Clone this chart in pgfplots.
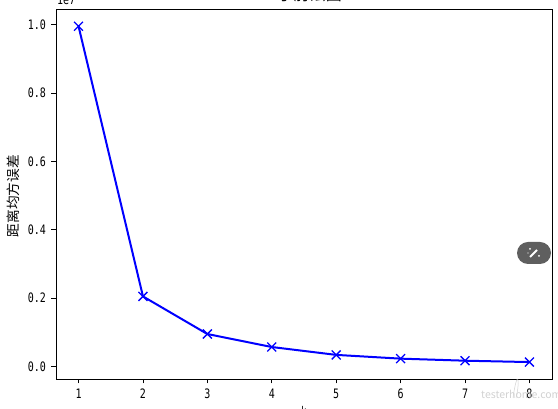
\documentclass[border=0pt]{standalone}
\usepackage{pgfplots}
\pgfplotsset{compat=1.18}
\usepackage{fontspec}
\setmainfont{Noto Sans CJK SC}
\newfontfamily\tickf[FakeStretch=0.77]{DejaVu Sans Mono}
\definecolor{pill}{HTML}{5F5F5F}
\begin{document}
\begin{tikzpicture}[x=1pt,y=1pt]
\path[use as bounding box] (0,0) rectangle (558,409);
\clip (0,0) rectangle (558,409);
\begin{axis}[
  at={(56pt,30pt)}, anchor=south west,
  scale only axis, width=496pt, height=369.5pt,
  xmin=0.65, xmax=8.35, ymin=-0.0365, ymax=1.044,
  xtick={1,2,3,4,5,6,7,8},
  ytick={0,0.2,0.4,0.6,0.8,1.0},
  yticklabels={0.0,0.2,0.4,0.6,0.8,1.0},
  tick style={black, line width=0.8pt},
  tick align=outside, major tick length=4.5pt,
  xtick pos=bottom, ytick pos=left,
  axis line style={line width=0.9pt},
  ticklabel style={font=\tickf\fontsize{13}{15}\selectfont},
  xticklabel style={yshift=-1.5pt},
  yticklabel style={xshift=-2pt},
  /pgf/number format/assume math mode=true,
  xlabel={k}, ylabel={距离均方误差},
  xlabel style={at={(axis description cs:0.5,-0.0975)}, anchor=base, font=\tickf\fontsize{12}{14}\selectfont},
  ylabel style={at={(axis description cs:-0.086,0.495)}, anchor=center, font=\fontsize{13.7}{15}\selectfont},
  title={手肘法图},
  title style={at={(axis description cs:0.512,1.007)}, anchor=base, font=\fontsize{16}{18}\selectfont},
  clip=false,
]
\addplot[blue, line width=2pt, mark=x, mark size=6.3pt, mark options={line width=1.3pt}] coordinates {
 (1,0.995) (2,0.205) (3,0.095) (4,0.057) (5,0.034) (6,0.023) (7,0.017) (8,0.013)};
\end{axis}
\node[anchor=base west, inner sep=0pt, font=\tickf\fontsize{13}{15}\selectfont] at (57,404) {1e7};
\fill[pill, rounded corners=11pt] (517,145) rectangle (551,167);
\draw[white, line width=1.8pt] (530,152) -- (537,159);
\fill[white] (530,160) circle (1pt) (539,153) circle (1pt) (528,156) circle (0.7pt);
\node[text=black!18, font=\fontsize{10.5}{10.5}\selectfont, anchor=base west, inner sep=0pt] at (481,10) {testerhome.com};
\draw[black!18, line width=0.5pt] (513,11) .. controls (515,25) and (517,32) .. (518,29) .. controls (519,25) and (517,15) .. (516,11);
\end{tikzpicture}
\end{document}
